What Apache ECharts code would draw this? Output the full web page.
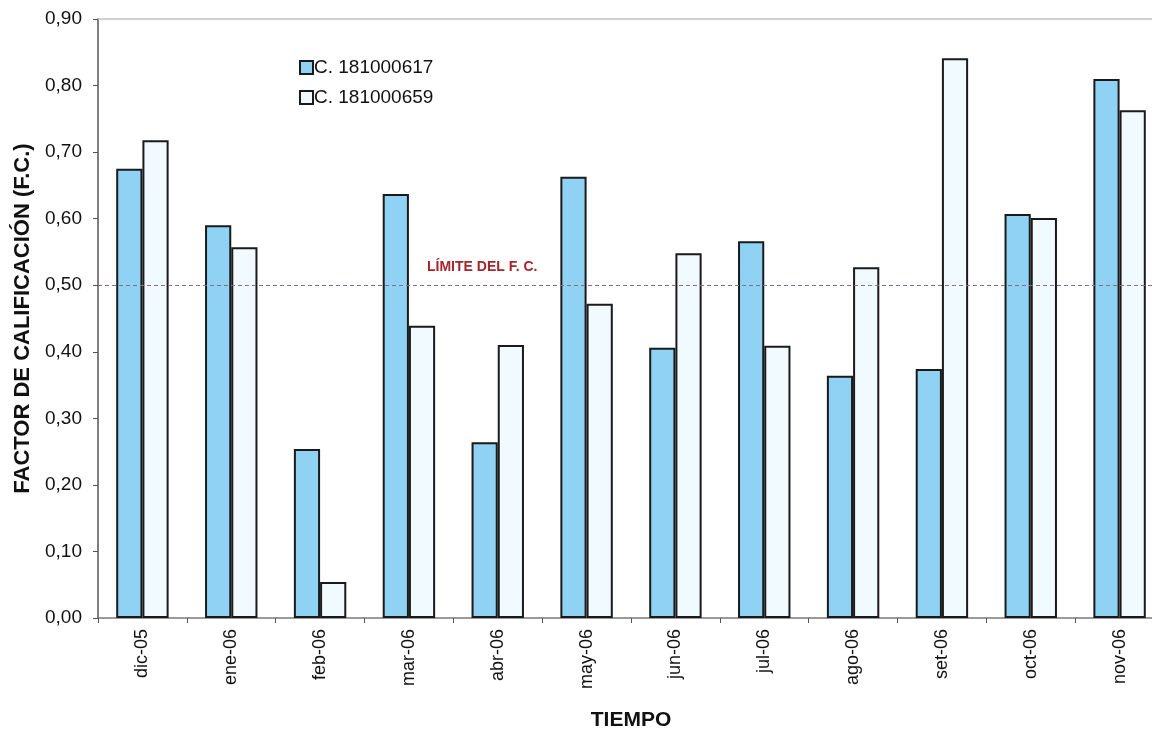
<!DOCTYPE html>
<html>
<head>
<meta charset="utf-8">
<script src="https://cdn.jsdelivr.net/npm/echarts@6/dist/echarts.min.js"></script>
<style>
  html, body { margin: 0; padding: 0; background: #ffffff; }
  #chart { width: 1152px; height: 730px; }
</style>
</head>
<body>
<div id="chart"></div>
<script>
// Monthly quality factor (F.C.) for two circuits, Dec 2005 – Nov 2006
const months = ['dic-05', 'ene-06', 'feb-06', 'mar-06', 'abr-06', 'may-06',
                'jun-06', 'jul-06', 'ago-06', 'set-06', 'oct-06', 'nov-06'];
const circuitA = [0.675, 0.590, 0.254, 0.637, 0.264, 0.663, 0.406, 0.566, 0.364, 0.374, 0.607, 0.810];
const circuitB = [0.718, 0.557, 0.054, 0.439, 0.410, 0.472, 0.548, 0.409, 0.527, 0.841, 0.601, 0.763];
const seriesNames = ['C. 181000617', 'C. 181000659'];
const limitValue = 0.50;
const limitLabel = 'LÍMITE DEL F. C.';

const FONT = '"Liberation Sans", Arial, sans-serif';

const chart = echarts.init(document.getElementById('chart'), null, { renderer: 'canvas' });

const fmt = v => v.toFixed(2).replace('.', ',');

const option = {
  animation: false,
  backgroundColor: '#ffffff',
  grid: { left: 98, top: 19, width: 1066, bottom: 112, containLabel: false, outerBoundsMode: 'none' },
  legend: {
    orient: 'vertical',
    left: 294,
    top: 53,
    icon: 'rect',
    itemWidth: 13,
    itemHeight: 13,
    itemGap: 11,
    textStyle: { fontFamily: FONT, fontSize: 19, color: '#111', padding: [0, 0, 0, -4] },
    data: seriesNames
  },
  xAxis: [{
    type: 'category',
    data: months,
    position: 'bottom',
    axisLine: { lineStyle: { color: '#7a7a7a', width: 1.5 } },
    axisTick: { show: true, length: 5, lineStyle: { color: '#555' } },
    axisLabel: { rotate: 90, margin: 11, fontFamily: FONT, fontSize: 18, color: '#111' },
    name: 'TIEMPO',
    nameLocation: 'middle',
    nameGap: 92,
    nameTextStyle: { fontFamily: FONT, fontSize: 21, fontWeight: 'bold', color: '#111' }
  }, {
    type: 'category',
    data: months,
    position: 'top',
    axisLine: { lineStyle: { color: '#c4c4c4', width: 1.5 } },
    axisTick: { show: false },
    axisLabel: { show: false }
  }],
  yAxis: {
    type: 'value',
    min: 0,
    max: 0.9,
    interval: 0.1,
    splitLine: { show: false },
    axisLine: { show: true, lineStyle: { color: '#555', width: 1.5 } },
    axisTick: { show: true, length: 5, lineStyle: { color: '#555' } },
    axisLabel: { formatter: fmt, margin: 16, fontFamily: FONT, fontSize: 19, color: '#111' },
    name: 'FACTOR DE CALIFICACIÓN (F.C.)',
    nameLocation: 'middle',
    nameGap: 63,
    nameTextStyle: { fontFamily: FONT, fontSize: 22, fontWeight: 'bold', color: '#111' }
  },
  series: [{
    name: seriesNames[0],
    type: 'bar',
    data: circuitA,
    barGap: 0,
    barCategoryGap: '41%',
    itemStyle: { color: '#8fd2f3', borderColor: '#1a1a1a', borderWidth: 2 }
  }, {
    name: seriesNames[1],
    type: 'bar',
    data: circuitB,
    itemStyle: { color: '#f0faff', borderColor: '#1a1a1a', borderWidth: 2 },
    markLine: {
      silent: true,
      symbol: 'none',
      z: 10,
      label: { show: false },
      lineStyle: { type: [4, 3], color: '#85708c', width: 1.2 },
      data: [{ yAxis: limitValue }]
    }
  }]
};

chart.setOption(option);

// Caption for the limit line, placed just above it
const limitY = chart.convertToPixel({ yAxisIndex: 0 }, limitValue);
chart.setOption({
  graphic: [{
    type: 'text',
    left: 427,
    top: limitY - 25,
    style: { text: limitLabel, fontFamily: FONT, fontSize: 14, fontWeight: 'bold', fill: '#a3262c' }
  }]
});
</script>
</body>
</html>
